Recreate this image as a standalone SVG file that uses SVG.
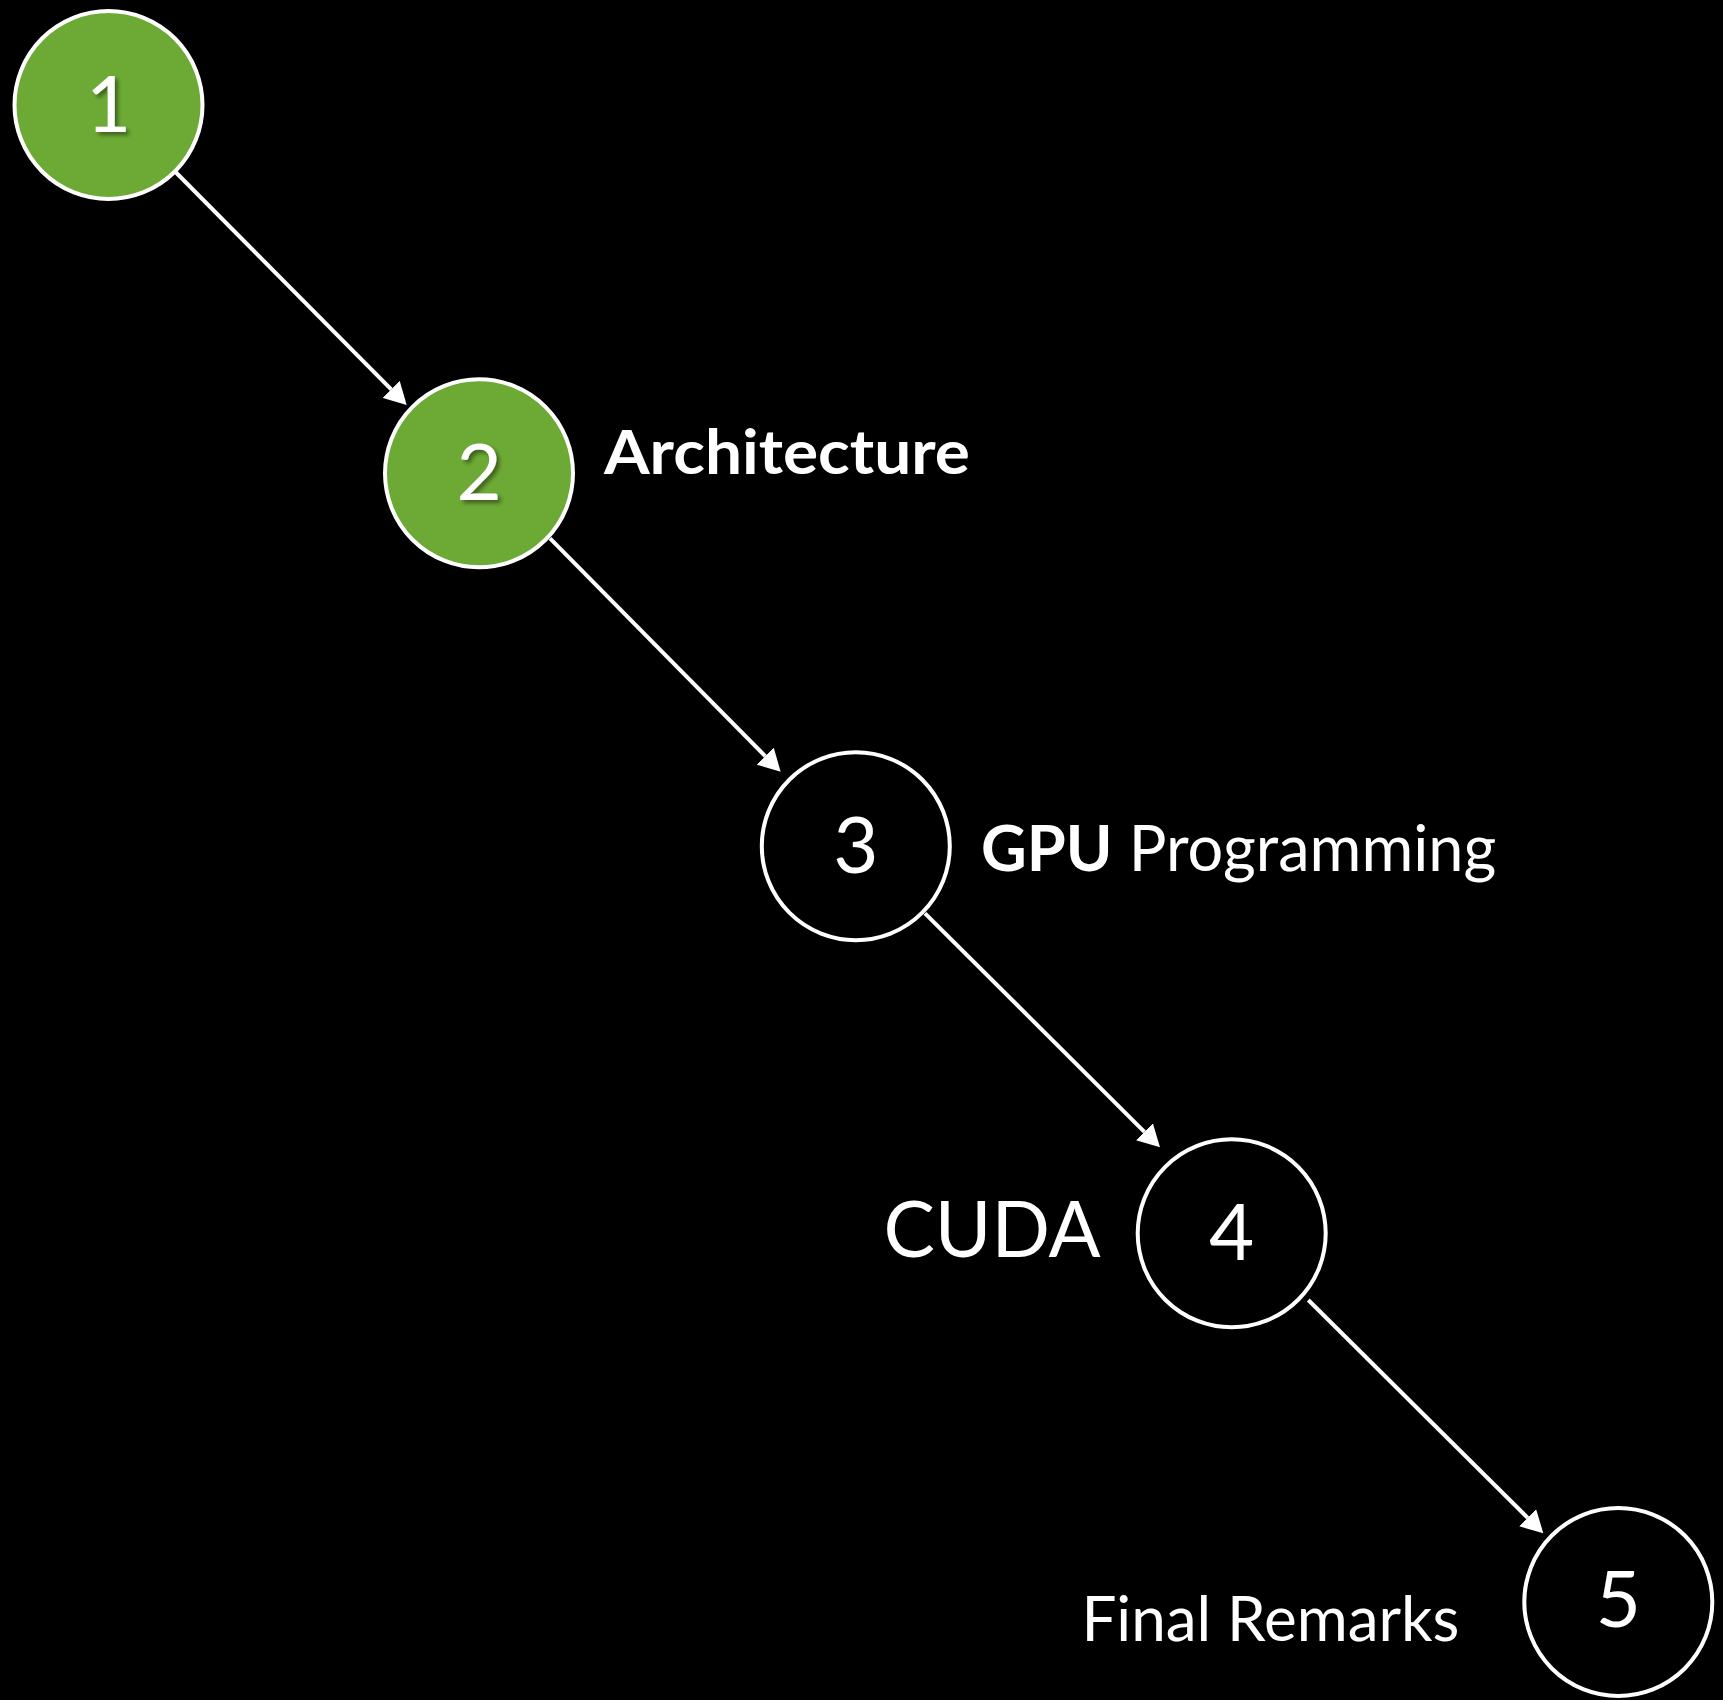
<svg xmlns="http://www.w3.org/2000/svg" width="1723" height="1700" viewBox="0 0 1723 1700">
  <style>
    .node { stroke: #ffffff; stroke-width: 4; }
    .done { fill: #6daa35; }
    .todo { fill: #000000; }
    .num { font-family: Lato, "Open Sans", sans-serif; font-size: 78px; fill: #ffffff; text-anchor: middle; }
    .label { font-family: Lato, "Open Sans", sans-serif; fill: #ffffff; }
    .bold { font-weight: 700; }
    .edge { stroke: #ffffff; stroke-width: 4; fill: none; marker-end: url(#arrow); }
  </style>
  <defs>
    <marker id="arrow" markerUnits="userSpaceOnUse" markerWidth="22" markerHeight="24" refX="0" refY="12" orient="auto">
      <path d="M0,0 L22,12 L0,24 z" fill="#ffffff"/>
    </marker>
    <filter id="shadow" x="-30%" y="-30%" width="160%" height="160%">
      <feDropShadow dx="3" dy="3" stdDeviation="2" flood-color="#000000" flood-opacity="0.45"/>
    </filter>
  </defs>

  <rect width="1723" height="1700" fill="#000000"/>

  <g id="connectors">
    <path class="edge" d="M175.5,172 L391.2,389.4"/>
    <path class="edge" d="M550,538.3 L765.2,756.1"/>
    <path class="edge" d="M925,913.3 L1144.4,1131.8"/>
    <path class="edge" d="M1308.3,1300 L1527.7,1517.8"/>
  </g>

  <g id="node-1">
    <circle class="node done" cx="108.5" cy="105" r="94"/>
    <text class="num" x="108.5" y="131.5" filter="url(#shadow)">1</text>
  </g>

  <g id="node-2">
    <circle class="node done" cx="479" cy="473.3" r="94"/>
    <text class="num" x="479" y="500" filter="url(#shadow)">2</text>
    <text class="label bold" x="604" y="474" font-size="61" textLength="366" lengthAdjust="spacingAndGlyphs">Architecture</text>
  </g>

  <g id="node-3">
    <circle class="node todo" cx="855.8" cy="846.2" r="94"/>
    <text class="num" x="855.8" y="873.3">3</text>
    <text class="label" x="981" y="870.6" font-size="63"><tspan class="bold">GPU</tspan> Programming</text>
  </g>

  <g id="node-4">
    <circle class="node todo" cx="1231.7" cy="1233.3" r="94"/>
    <text class="num" x="1231.7" y="1259.5">4</text>
    <text class="label" x="1100.7" y="1257.3" font-size="77" text-anchor="end">CUDA</text>
  </g>

  <g id="node-5">
    <circle class="node todo" cx="1618.3" cy="1602" r="94"/>
    <text class="num" x="1618.3" y="1627">5</text>
    <text class="label" x="1459.4" y="1641" font-size="62" text-anchor="end">Final Remarks</text>
  </g>
</svg>
